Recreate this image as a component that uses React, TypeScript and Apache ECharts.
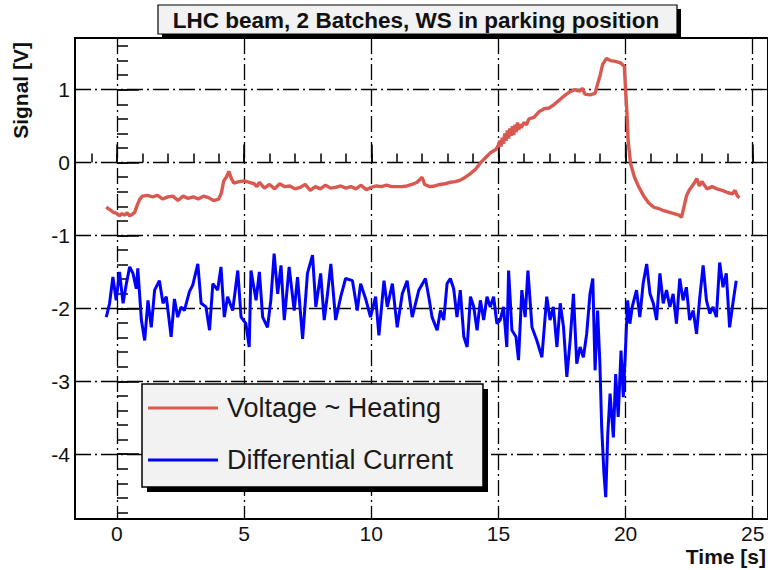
import React, { useEffect, useRef } from "react";
import * as echarts from "echarts";

const titleText = "LHC beam, 2 Batches, WS in parking position";
const xTitle = "Time [s]";
const yTitle = "Signal [V]";
const seriesNames = ["Voltage ~ Heating", "Differential Current"];
const seriesColors = ["#d9584f", "#0000ff"];

const xRange = [-1.65, 25.6];
const yRange = [-4.89, 1.71];
const xMajorTicks = [0, 5, 10, 15, 20, 25];
const xMinorTicks = [-1, 0, 1, 2, 3, 4, 5, 6, 7, 8, 9, 10, 11, 12, 13, 14, 15, 16, 17, 18, 19, 20, 21, 22, 23, 24, 25];
const yMajorTicks = [-4, -3, -2, -1, 0, 1];
const yMinorTicks = [
  -4.8, -4.6, -4.4, -4.2, -4, -3.8, -3.6, -3.4, -3.2, -3, -2.8, -2.6, -2.4, -2.2, -2,
  -1.8, -1.6, -1.4, -1.2, -1, -0.8, -0.6, -0.4, -0.2, 0, 0.2, 0.4, 0.6, 0.8, 1, 1.2, 1.4, 1.6,
];

// [time s, signal V]
const voltageSamples = [
  [-0.42, -0.61], [-0.3, -0.64], [-0.15, -0.68], [0.0, -0.7], [0.1, -0.73], [0.2, -0.7], [0.3, -0.72], [0.4, -0.69], [0.5, -0.73], [0.6, -0.71],
  [0.7, -0.68], [0.8, -0.58], [0.9, -0.5], [1.0, -0.46], [1.2, -0.45], [1.4, -0.47], [1.6, -0.45], [1.8, -0.5], [2.0, -0.47], [2.2, -0.46],
  [2.4, -0.52], [2.6, -0.46], [2.8, -0.49], [3.0, -0.47], [3.2, -0.5], [3.4, -0.46], [3.6, -0.48], [3.8, -0.52], [4.0, -0.5], [4.1, -0.42],
  [4.2, -0.25], [4.3, -0.2], [4.4, -0.12], [4.5, -0.22], [4.6, -0.28], [4.8, -0.26], [5.0, -0.25], [5.2, -0.27], [5.4, -0.29], [5.5, -0.33],
  [5.6, -0.27], [5.8, -0.35], [6.0, -0.3], [6.2, -0.36], [6.4, -0.29], [6.6, -0.33], [6.8, -0.32], [7.0, -0.36], [7.2, -0.34], [7.4, -0.3],
  [7.6, -0.38], [7.8, -0.33], [8.0, -0.36], [8.2, -0.31], [8.4, -0.35], [8.6, -0.34], [8.8, -0.32], [9.0, -0.35], [9.2, -0.33], [9.4, -0.36],
  [9.6, -0.31], [9.8, -0.37], [10.0, -0.34], [10.2, -0.32], [10.4, -0.33], [10.6, -0.31], [10.8, -0.33], [11.0, -0.33], [11.2, -0.33], [11.4, -0.32],
  [11.6, -0.3], [11.8, -0.27], [12.0, -0.2], [12.1, -0.3], [12.3, -0.33], [12.5, -0.32], [12.7, -0.3], [12.9, -0.29], [13.1, -0.27], [13.3, -0.26],
  [13.5, -0.24], [13.7, -0.2], [13.9, -0.15], [14.1, -0.09], [14.3, 0.0], [14.5, 0.07], [14.7, 0.14], [14.9, 0.18], [15.0, 0.24],
  [15.05, 0.3], [15.1, 0.22], [15.15, 0.34], [15.2, 0.26], [15.25, 0.4], [15.3, 0.3], [15.35, 0.44], [15.4, 0.33], [15.45, 0.47], [15.5, 0.37],
  [15.55, 0.5], [15.6, 0.38], [15.65, 0.52], [15.7, 0.42], [15.75, 0.55], [15.8, 0.45], [15.85, 0.53], [15.9, 0.48], [16.0, 0.55], [16.1, 0.52],
  [16.2, 0.6], [16.4, 0.62],
  [16.6, 0.7], [16.8, 0.74], [17.0, 0.75], [17.2, 0.8], [17.4, 0.86], [17.6, 0.92], [17.8, 0.97], [18.0, 1.0], [18.2, 0.98], [18.3, 1.02],
  [18.4, 0.94], [18.6, 0.93], [18.8, 0.95], [18.9, 1.08], [19.0, 1.2], [19.1, 1.35], [19.25, 1.43], [19.4, 1.4], [19.6, 1.39], [19.8, 1.37],
  [19.95, 1.32], [20.0, 1.0], [20.05, 0.7], [20.1, 0.3], [20.2, -0.02], [20.35, -0.2], [20.5, -0.32], [20.7, -0.45], [20.9, -0.55], [21.1, -0.61],
  [21.3, -0.63], [21.5, -0.66], [21.7, -0.68], [21.9, -0.7], [22.1, -0.72], [22.2, -0.75], [22.3, -0.6], [22.4, -0.45], [22.5, -0.38], [22.6, -0.33],
  [22.7, -0.28], [22.8, -0.22], [22.9, -0.32], [23.0, -0.26], [23.2, -0.36], [23.4, -0.33], [23.6, -0.36], [23.8, -0.38], [24.0, -0.41], [24.2, -0.43],
  [24.3, -0.38], [24.4, -0.46], [24.48, -0.48],
];

// [time s, signal V]
const currentSamples = [
  [-0.42, -2.12], [-0.29, -1.93], [-0.16, -1.57], [-0.03, -1.89], [0.1, -1.5], [0.24, -1.93], [0.37, -1.66], [0.5, -1.43], [0.63, -1.52], [0.76, -1.73],
  [0.82, -1.45], [0.96, -2.16], [1.09, -2.44], [1.22, -1.89], [1.35, -2.26], [1.48, -1.75], [1.67, -1.62], [1.81, -1.93], [1.94, -1.84], [2.13, -2.39],
  [2.26, -1.87], [2.39, -2.12], [2.52, -1.98], [2.65, -2.03], [2.85, -1.77], [2.98, -1.68], [3.18, -1.39], [3.31, -1.93], [3.5, -1.98], [3.64, -2.3],
  [3.77, -1.66], [3.96, -1.75], [4.09, -1.43], [4.22, -2.12], [4.35, -1.84], [4.55, -2.03], [4.75, -1.48], [4.88, -2.12], [5.07, -2.21], [5.2, -2.53],
  [5.27, -1.48], [5.47, -1.89], [5.6, -1.5], [5.73, -2.12], [5.92, -2.26], [6.05, -1.89], [6.18, -1.25], [6.32, -1.8], [6.45, -1.41], [6.58, -2.16],
  [6.77, -1.43], [6.97, -2.03], [7.1, -1.57], [7.3, -2.42], [7.49, -1.52], [7.69, -1.27], [7.82, -1.98], [8.01, -1.52], [8.15, -2.16], [8.28, -1.8],
  [8.41, -1.39], [8.6, -2.16], [8.8, -1.84], [8.99, -1.59], [9.26, -1.62], [9.45, -2.03], [9.58, -1.66], [9.78, -1.87], [9.97, -2.12], [10.17, -1.84],
  [10.3, -2.37], [10.5, -1.62], [10.63, -1.98], [10.83, -1.66], [11.02, -2.26], [11.22, -1.8], [11.41, -1.62], [11.61, -2.12], [11.87, -1.75], [12.13, -1.59],
  [12.26, -1.84], [12.39, -2.12], [12.59, -2.3], [12.72, -2.03], [12.85, -2.16], [12.98, -1.66], [13.11, -1.59], [13.24, -1.73], [13.37, -2.12], [13.5, -1.75],
  [13.64, -2.39], [13.77, -2.53], [13.9, -1.84], [14.03, -1.98], [14.16, -2.3], [14.29, -1.89], [14.42, -2.16], [14.55, -1.84], [14.68, -1.98], [14.81, -1.84],
  [14.94, -2.21], [15.07, -2.16], [15.2, -1.98], [15.33, -2.53], [15.4, -1.48], [15.53, -2.3], [15.69, -2.39], [15.79, -2.71], [15.92, -1.75], [16.05, -2.12],
  [16.16, -1.48], [16.32, -2.26], [16.51, -2.44], [16.71, -2.67], [16.9, -1.84], [17.03, -2.16], [17.16, -1.98], [17.3, -2.53], [17.43, -1.93], [17.56, -2.26],
  [17.69, -2.94], [17.82, -2.44], [17.95, -1.8], [18.08, -2.76], [18.21, -2.53], [18.34, -2.67], [18.47, -2.35], [18.6, -1.8], [18.71, -1.59], [18.8, -2.85],
  [18.9, -2.03], [18.99, -2.76], [19.06, -3.63], [19.15, -4.27], [19.22, -4.59], [19.3, -3.72], [19.39, -3.17], [19.52, -3.77], [19.61, -2.9], [19.71, -3.49],
  [19.82, -2.58], [19.91, -3.22], [20.0, -2.53], [20.08, -1.89], [20.17, -2.21], [20.26, -1.98], [20.43, -1.75], [20.56, -2.12], [20.69, -1.66], [20.83, -1.39],
  [20.96, -1.8], [21.09, -1.93], [21.22, -2.16], [21.35, -1.52], [21.48, -1.93], [21.61, -1.75], [21.74, -1.98], [21.87, -1.8], [22.0, -2.21], [22.13, -1.59],
  [22.26, -1.89], [22.39, -1.71], [22.52, -2.16], [22.66, -2.03], [22.79, -2.35], [22.92, -1.84], [23.05, -1.41], [23.18, -1.89], [23.31, -2.07], [23.44, -1.98],
  [23.57, -2.12], [23.7, -1.37], [23.83, -1.71], [23.96, -1.52], [24.09, -2.26], [24.22, -1.93], [24.35, -1.62],
];

const FONT = '"Liberation Sans", Arial, Helvetica, sans-serif';
const gridDash = [16, 4, 2, 4];

export default function App() {
  const ref = useRef<HTMLDivElement>(null);

  useEffect(() => {
    if (!ref.current) return;
    const chart = echarts.init(ref.current, undefined, { renderer: "svg" });

    const majorAxisCommon = {
      type: "value" as const,
      axisLine: { show: false },
      splitLine: { show: true, lineStyle: { color: "#000", width: 1.3, type: gridDash } },
    };
    const minorAxisCommon = {
      type: "value" as const,
      axisLine: { show: false },
      axisLabel: { show: false },
      splitLine: { show: false },
    };

    chart.setOption({
      animation: false,
      backgroundColor: "#ffffff",
      grid: {
        left: 75,
        top: 38,
        width: 695,
        height: 481,
        show: true,
        borderColor: "#000",
        borderWidth: 2,
        backgroundColor: "transparent",
      },
      xAxis: [
        {
          ...majorAxisCommon,
          position: "bottom",
          min: xRange[0],
          max: xRange[1],
          axisTick: { show: true, inside: true, length: 18, customValues: xMajorTicks, lineStyle: { color: "#000", width: 1.5 } },
          axisLabel: { show: true, customValues: xMajorTicks, margin: 4, fontSize: 21, color: "#111", fontFamily: FONT },
        },
        {
          ...minorAxisCommon,
          position: "bottom",
          min: xRange[0],
          max: xRange[1],
          axisTick: { show: true, inside: true, length: 9, customValues: xMinorTicks, lineStyle: { color: "#000", width: 1.5 } },
        },
      ],
      yAxis: [
        {
          ...majorAxisCommon,
          position: "left",
          min: yRange[0],
          max: yRange[1],
          axisTick: { show: true, inside: true, length: 22, customValues: yMajorTicks, lineStyle: { color: "#000", width: 1.5 } },
          axisLabel: { show: true, customValues: yMajorTicks, margin: 5, fontSize: 21, color: "#111", fontFamily: FONT },
        },
        {
          ...minorAxisCommon,
          position: "left",
          min: yRange[0],
          max: yRange[1],
          axisTick: { show: true, inside: true, length: 11, customValues: yMinorTicks, lineStyle: { color: "#000", width: 1.5 } },
        },
      ],
      legend: {
        orient: "vertical",
        left: 148,
        top: 394.5,
        padding: 0,
        itemGap: 25,
        itemWidth: 70,
        itemHeight: 3,
        icon: "rect",
        selectedMode: false,
        z: 20,
        data: seriesNames,
        textStyle: { fontSize: 27, color: "#1a1a1a", fontFamily: FONT, padding: [0, 0, 0, 4] },
      },
      graphic: [
        { type: "rect", z: 9, shape: { x: 162, y: 9, width: 519, height: 29 }, style: { fill: "#000" } },
        { type: "rect", z: 10, shape: { x: 158, y: 5, width: 519, height: 29 }, style: { fill: "#f2f2f2", stroke: "#000", lineWidth: 1.2 } },
        {
          type: "text", z: 11, x: 416, y: 20,
          style: { text: titleText, font: `bold 22.5px ${FONT}`, fill: "#111", align: "center", verticalAlign: "middle" },
        },
        { type: "rect", z: 9, shape: { x: 147, y: 389, width: 341, height: 103 }, style: { fill: "#000" } },
        { type: "rect", z: 10, shape: { x: 142, y: 384, width: 341, height: 103 }, style: { fill: "#f2f2f2", stroke: "#000", lineWidth: 1.5 } },
        {
          type: "text", z: 11, x: 766, y: 556,
          style: { text: xTitle, font: `bold 21px ${FONT}`, fill: "#111", align: "right", verticalAlign: "middle" },
        },
        {
          type: "text", z: 11, x: 20, y: 42, rotation: Math.PI / 2,
          style: { text: yTitle, font: `bold 21px ${FONT}`, fill: "#111", align: "right", verticalAlign: "middle" },
        },
      ],
      series: [
        {
          name: seriesNames[0],
          type: "line",
          xAxisIndex: 0,
          yAxisIndex: 0,
          data: voltageSamples,
          showSymbol: false,
          symbol: "none",
          clip: true,
          z: 3,
          itemStyle: { color: seriesColors[0] },
          lineStyle: { color: seriesColors[0], width: 3.4 },
        },
        {
          name: seriesNames[1],
          type: "line",
          xAxisIndex: 0,
          yAxisIndex: 0,
          data: currentSamples,
          showSymbol: false,
          symbol: "none",
          clip: true,
          z: 3,
          itemStyle: { color: seriesColors[1] },
          lineStyle: { color: seriesColors[1], width: 3 },
        },
      ],
    });

    return () => chart.dispose();
  }, []);

  return (
    <div
      ref={ref}
      style={{ position: "fixed", left: 0, top: 0, width: 768, height: 570, background: "#fff" }}
    />
  );
}
